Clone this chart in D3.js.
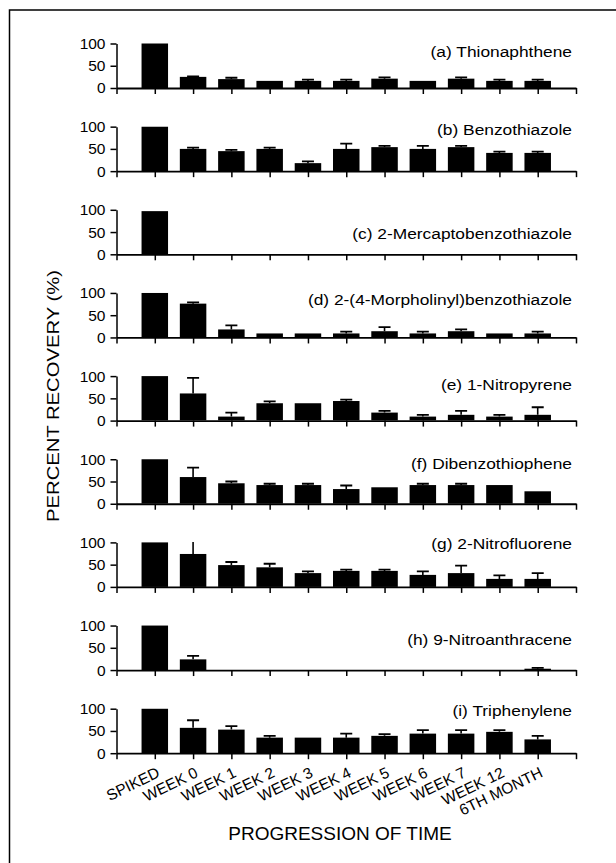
<!DOCTYPE html>
<html>
<head>
<meta charset="utf-8">
<script src="https://cdn.jsdelivr.net/npm/d3@7"></script>
<style>
  html, body { margin: 0; padding: 0; background: #fff; }
  svg { display: block; }
  text { font-family: "Liberation Sans", Arial, sans-serif; fill: #000; }
</style>
</head>
<body>
<svg id="chart" width="616" height="863"></svg>
<script>
// ---------------- DATA ----------------
const categories = ["SPIKED", "WEEK 0", "WEEK 1", "WEEK 2", "WEEK 3", "WEEK 4",
                    "WEEK 5", "WEEK 6", "WEEK 7", "WEEK 12", "6TH MONTH"];
const compounds = ["(a) Thionaphthene", "(b) Benzothiazole", "(c) 2-Mercaptobenzothiazole",
                   "(d) 2-(4-Morpholinyl)benzothiazole", "(e) 1-Nitropyrene",
                   "(f) Dibenzothiophene", "(g) 2-Nitrofluorene", "(h) 9-Nitroanthracene",
                   "(i) Triphenylene"];
const yTickValues = [0, 50, 100];

const meanA = [100, 25, 20, 16, 16, 16, 21, 16, 21, 16, 16];
const errA  = [0, 1, 3, 0, 3, 3, 3, 0, 3, 3, 3];
const meanB = [100, 50, 45, 50, 18, 50, 54, 50, 54, 41, 41];
const errB  = [0, 3, 3, 3, 4, 12, 3, 7, 3, 3, 3];
const meanC = [97, 0, 0, 0, 0, 0, 0, 0, 0, 0, 0];
const errC  = [0, 0, 0, 0, 0, 0, 0, 0, 0, 0, 0];
const meanD = [100, 76, 18, 9, 9, 9, 14, 9, 14, 9, 9];
const errD  = [0, 3, 9, 0, 0, 4, 9, 4, 4, 0, 4];
const meanE = [100, 61, 9, 39, 39, 44, 18, 9, 13, 9, 13];
const errE  = [0, 35, 9, 4, 0, 3, 4, 4, 9, 4, 17];
const meanF = [100, 60, 46, 42, 42, 33, 37, 42, 42, 42, 28];
const errF  = [0, 21, 4, 3, 3, 8, 0, 3, 3, 0, 0];
const meanG = [100, 74, 49, 44, 31, 36, 36, 27, 31, 18, 18];
const errG  = [0, 30, 7, 8, 4, 3, 3, 8, 17, 8, 13];
const meanH = [100, 24, 0, 0, 0, 0, 0, 0, 0, 0, 3];
const errH  = [0, 8, 0, 0, 0, 0, 0, 0, 0, 0, 2];
const meanI = [100, 57, 53, 35, 35, 35, 39, 44, 44, 48, 31];
const errI  = [0, 17, 8, 4, 0, 9, 4, 8, 8, 4, 8];

const panelMeans = [meanA, meanB, meanC, meanD, meanE, meanF, meanG, meanH, meanI];
const panelErrs  = [errA, errB, errC, errD, errE, errF, errG, errH, errI];

// ---------------- LAYOUT ----------------
const svg = d3.select("#chart");
const xLeft = 116.5, xRight = 576;
const zeroFirst = 88, panelStep = 83.15, plotH = 44.5;
const barW = 26.5, capW = 12;
const labelOffsets = [13, 8, 29, 12, 14, 10, 7, 19, 7];

// frame (only left/top visible in view)
svg.append("rect")
  .attr("x", 9.5).attr("y", 10)
  .attr("width", 700).attr("height", 900)
  .attr("fill", "none").attr("stroke", "#000").attr("stroke-width", 1.5);

const x = d3.scaleLinear().domain([0, categories.length + 1]).range([xLeft, xRight]);

panelMeans.forEach((means, p) => {
  const errs = panelErrs[p];
  const y0 = zeroFirst + p * panelStep;
  const y = d3.scaleLinear().domain([0, 100]).range([y0, y0 - plotH]);
  const g = svg.append("g");

  const clipId = "clip" + p;
  svg.append("clipPath").attr("id", clipId)
    .append("rect")
    .attr("x", xLeft).attr("y", y(100) - 0.5)
    .attr("width", xRight - xLeft).attr("height", plotH + 0.5);

  const plot = g.append("g").attr("clip-path", `url(#${clipId})`);

  // error bars (upward only)
  const eb = plot.selectAll("g.eb").data(means.map((m, i) => ({ m, e: errs[i], i })))
    .join("g").attr("class", "eb")
    .filter(d => d.e > 0);
  eb.append("line")
    .attr("x1", d => x(d.i + 1)).attr("x2", d => x(d.i + 1))
    .attr("y1", d => y(d.m)).attr("y2", d => y(d.m + d.e))
    .attr("stroke", "#000").attr("stroke-width", 1.6);
  eb.append("line")
    .attr("x1", d => x(d.i + 1) - capW / 2).attr("x2", d => x(d.i + 1) + capW / 2)
    .attr("y1", d => y(d.m + d.e)).attr("y2", d => y(d.m + d.e))
    .attr("stroke", "#000").attr("stroke-width", 1.8);

  // bars
  plot.selectAll("rect.bar").data(means.map((m, i) => ({ m, i })))
    .join("rect").attr("class", "bar")
    .filter(d => d.m > 0)
    .attr("x", d => x(d.i + 1) - barW / 2)
    .attr("width", barW)
    .attr("y", d => y(d.m))
    .attr("height", d => y(0) - y(d.m))
    .attr("fill", "#000");

  // y axis
  const yAxis = g.append("g")
    .attr("transform", `translate(${xLeft},0)`)
    .call(d3.axisLeft(y).tickValues(yTickValues).tickSize(6).tickSizeOuter(0).tickPadding(5));
  yAxis.selectAll("path, line").attr("stroke", "#000").attr("stroke-width", 1.5);
  yAxis.selectAll("text").attr("font-size", 15.5).attr("font-family", "Liberation Sans, Arial, sans-serif");

  // x axis
  const isLast = p === panelMeans.length - 1;
  const xAxis = g.append("g")
    .attr("transform", `translate(0,${y0})`)
    .call(d3.axisBottom(x)
      .tickValues(d3.range(0, categories.length + 2))
      .tickSize(6).tickSizeOuter(0)
      .tickFormat(i => (isLast && i >= 1 && i <= categories.length) ? categories[i - 1] : ""));
  xAxis.select("path.domain").attr("stroke", "#000").attr("stroke-width", 1.8);
  xAxis.selectAll("line").attr("stroke", "#000").attr("stroke-width", 1.5);
  xAxis.selectAll("text")
    .attr("font-size", 15.5).attr("font-family", "Liberation Sans, Arial, sans-serif")
    .attr("text-anchor", "end")
    .attr("y", 0).attr("dy", 0)
    .attr("transform", "translate(5.5,23) rotate(-26)");

  // panel label (slightly wide face, like the original)
  g.append("g")
    .attr("transform", `translate(572,${y(100) + labelOffsets[p]}) scale(1.12,1)`)
    .append("text")
    .attr("text-anchor", "end")
    .attr("font-size", 15.5)
    .text(compounds[p]);
});

// axis titles
svg.append("text")
  .attr("transform", "translate(58.5,396) rotate(-90)")
  .attr("text-anchor", "middle")
  .attr("font-size", 17)
  .attr("textLength", 252)
  .attr("lengthAdjust", "spacingAndGlyphs")
  .text("PERCENT RECOVERY (%)");

svg.append("text")
  .attr("x", 340).attr("y", 840)
  .attr("text-anchor", "middle")
  .attr("font-size", 19)
  .text("PROGRESSION OF TIME");
</script>
</body>
</html>
